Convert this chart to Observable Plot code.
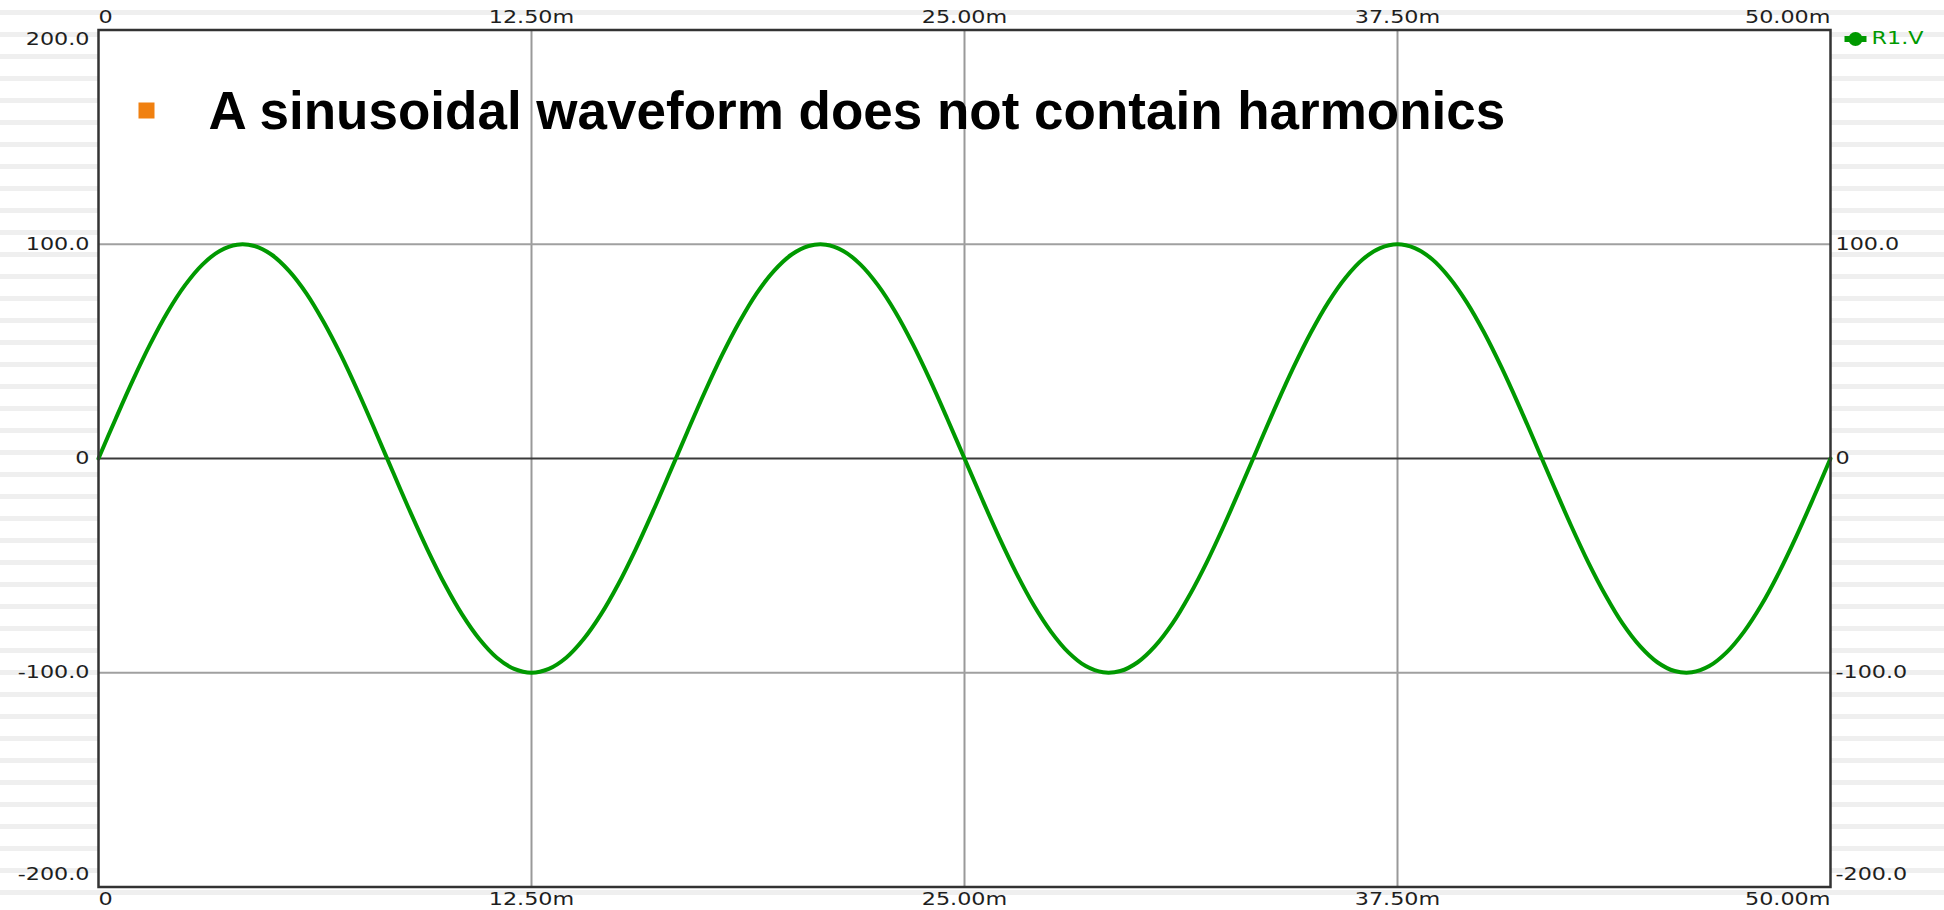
<!DOCTYPE html>
<html>
<head>
<meta charset="utf-8">
<script src="https://cdn.jsdelivr.net/npm/d3@7"></script>
<script src="https://cdn.jsdelivr.net/npm/@observablehq/plot@0.6"></script>
<style>
  html, body { margin: 0; padding: 0; }
  body {
    width: 1944px; height: 910px; overflow: hidden;
    background: #ffffff repeating-linear-gradient(to bottom, transparent 0px, transparent 10px, #efefef 10px, #efefef 15px, transparent 15px, transparent 22px);
  }
  svg { display: block; }
</style>
</head>
<body>
<script>
// ---- data ----
const titleText = "A sinusoidal waveform does not contain harmonics";
const seriesName = "R1.V";
const xTicks = [0, 12.5, 25, 37.5, 50];
const xTickLabels = ["0", "12.50m", "25.00m", "37.50m", "50.00m"];
const yTicks = [200, 100, 0, -100, -200];
const yTickLabels = ["200.0", "100.0", "0", "-100.0", "-200.0"];
const timeMs = [0,0.5,1,1.5,2,2.5,3,3.5,4,4.5,5,5.5,6,6.5,7,7.5,8,8.5,9,9.5,10,10.5,11,11.5,12,12.5,13,13.5,14,14.5,15,15.5,16,16.5,17,17.5,18,18.5,19,19.5,20,20.5,21,21.5,22,22.5,23,23.5,24,24.5,25,25.5,26,26.5,27,27.5,28,28.5,29,29.5,30,30.5,31,31.5,32,32.5,33,33.5,34,34.5,35,35.5,36,36.5,37,37.5,38,38.5,39,39.5,40,40.5,41,41.5,42,42.5,43,43.5,44,44.5,45,45.5,46,46.5,47,47.5,48,48.5,49,49.5,50];
const volts = [0,18.7,36.8,53.6,68.5,80.9,90.5,96.9,99.8,99.2,95.1,87.6,77.1,63.7,48.2,30.9,12.5,-6.3,-24.9,-42.6,-58.8,-72.9,-84.4,-93.0,-98.2,-100,-98.2,-93.0,-84.4,-72.9,-58.8,-42.6,-24.9,-6.3,12.5,30.9,48.2,63.7,77.1,87.6,95.1,99.2,99.8,96.9,90.5,80.9,68.5,53.6,36.8,18.7,0,-18.7,-36.8,-53.6,-68.5,-80.9,-90.5,-96.9,-99.8,-99.2,-95.1,-87.6,-77.1,-63.7,-48.2,-30.9,-12.5,6.3,24.9,42.6,58.8,72.9,84.4,93.0,98.2,100,98.2,93.0,84.4,72.9,58.8,42.6,24.9,6.3,-12.5,-30.9,-48.2,-63.7,-77.1,-87.6,-95.1,-99.2,-99.8,-96.9,-90.5,-80.9,-68.5,-53.6,-36.8,-18.7,0];

// ---- tables built from the arrays ----
const wave = timeMs.map((t, i) => ({t, v: volts[i]}));
const xTable = xTicks.map((v, i) => ({v, label: xTickLabels[i]}));
const yTable = yTicks.map((v, i) => ({v, label: yTickLabels[i]}));

const green = "#009900";
const tickFill = "#1e1e1e";
const tickFont = {fontSize: 17, fontFamily: "DejaVu Sans", fill: tickFill, lineAnchor: "middle"};

const legendSymbol = {
  draw(ctx, size) {
    const r = Math.sqrt(size / Math.PI);
    ctx.moveTo(r, 0);
    ctx.arc(0, 0, r, 0, 2 * Math.PI);
    ctx.moveTo(-11, -3);
    ctx.lineTo(11, -3);
    ctx.lineTo(11, 3);
    ctx.lineTo(-11, 3);
    ctx.closePath();
  }
};

const chart = Plot.plot({
  width: 1944,
  height: 910,
  marginLeft: 98,
  marginRight: 114,
  marginTop: 29.5,
  marginBottom: 23.5,
  x: {domain: [xTicks[0], xTicks[xTicks.length - 1]], axis: null},
  y: {domain: [yTicks[yTicks.length - 1], yTicks[0]], axis: null},
  style: {background: "transparent", fontFamily: "DejaVu Sans"},
  marks: [
    Plot.frame({fill: "white"}),
    Plot.ruleX(xTicks.slice(1, -1), {stroke: "#999", strokeWidth: 2}),
    Plot.ruleY(yTicks.filter(d => d !== 0 && Math.abs(d) !== 200), {stroke: "#a0a0a0", strokeWidth: 2}),
    Plot.ruleY([0], {stroke: "#3a3a3a", strokeWidth: 2}),
    Plot.line(wave, {x: "t", y: "v", stroke: green, strokeWidth: 4, curve: "catmull-rom"}),
    Plot.frame({stroke: "#333", strokeWidth: 2.5}),

    // top x labels
    Plot.text(xTable.slice(0, 1), {x: "v", text: "label", frameAnchor: "top", dy: -12, textAnchor: "start", ...tickFont}),
    Plot.text(xTable.slice(1, -1), {x: "v", text: "label", frameAnchor: "top", dy: -12, textAnchor: "middle", ...tickFont}),
    Plot.text(xTable.slice(-1), {x: "v", text: "label", frameAnchor: "top", dy: -12, textAnchor: "end", ...tickFont}),
    // bottom x labels
    Plot.text(xTable.slice(0, 1), {x: "v", text: "label", frameAnchor: "bottom", dy: 13, textAnchor: "start", ...tickFont}),
    Plot.text(xTable.slice(1, -1), {x: "v", text: "label", frameAnchor: "bottom", dy: 13, textAnchor: "middle", ...tickFont}),
    Plot.text(xTable.slice(-1), {x: "v", text: "label", frameAnchor: "bottom", dy: 13, textAnchor: "end", ...tickFont}),
    // left y labels
    Plot.text(yTable.slice(0, 1), {y: "v", text: "label", frameAnchor: "left", dx: -9, dy: 10, textAnchor: "end", ...tickFont}),
    Plot.text(yTable.slice(1, -1), {y: "v", text: "label", frameAnchor: "left", dx: -9, textAnchor: "end", ...tickFont}),
    Plot.text(yTable.slice(-1), {y: "v", text: "label", frameAnchor: "left", dx: -9, dy: -12, textAnchor: "end", ...tickFont}),
    // right y labels (top one is taken by the legend)
    Plot.text(yTable.slice(1, -1), {y: "v", text: "label", frameAnchor: "right", dx: 5, textAnchor: "start", ...tickFont}),
    Plot.text(yTable.slice(-1), {y: "v", text: "label", frameAnchor: "right", dx: 5, dy: -12, textAnchor: "start", ...tickFont}),

    // legend
    Plot.dot([seriesName], {frameAnchor: "top-right", dx: 25, dy: 9, symbol: legendSymbol, r: 7, fill: green, stroke: "none"}),
    Plot.text([seriesName], {text: d => d, frameAnchor: "top-right", dx: 41, dy: 9, textAnchor: "start", fontSize: 17, fontFamily: "DejaVu Sans", fill: green, lineAnchor: "middle"}),

    // slide bullet + title
    Plot.dot([titleText], {frameAnchor: "top-left", dx: 48, dy: 80.5, symbol: "square", r: 9.03, fill: "#f08010", stroke: "none"}),
    Plot.text([titleText], {text: d => d, frameAnchor: "top-left", dx: 110, dy: 82.5, textAnchor: "start", lineAnchor: "middle", fontSize: 53, fontWeight: "bold", fontFamily: "Liberation Sans", fill: "#000"})
  ]
});

document.body.append(chart);

// widen the small screen-font labels like the original oscilloscope font
chart.querySelectorAll("text").forEach(t => {
  if (t.textContent === titleText) return;
  const w = t.getComputedTextLength();
  if (w > 0) {
    t.setAttribute("textLength", (w * 1.31).toFixed(1));
    t.setAttribute("lengthAdjust", "spacingAndGlyphs");
  }
});
</script>
</body>
</html>
